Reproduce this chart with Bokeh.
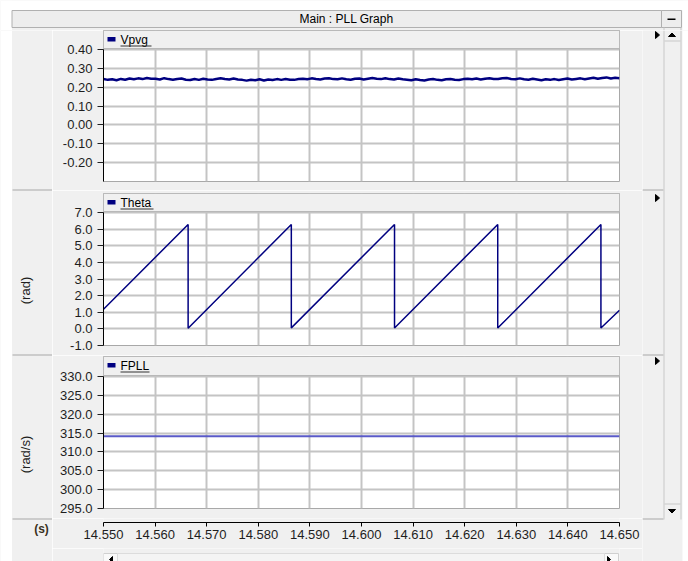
import numpy as np
from bokeh.plotting import figure
from bokeh.layouts import column, row
from bokeh.models import (Range1d, FixedTicker, PrintfTickFormatter, Label,
                          BoxAnnotation, PolyAnnotation)
from bokeh.embed import file_html
from bokeh.resources import INLINE

# ---------------- data ----------------
T_START, T_END = 14.55, 14.65
x_ticks = [14.55, 14.56, 14.57, 14.58, 14.59, 14.60, 14.61, 14.62, 14.63, 14.64, 14.65]

vpvg = [0.243, 0.239, 0.242, 0.237, 0.244, 0.240, 0.246, 0.242, 0.247, 0.243,
        0.249, 0.245, 0.245, 0.241, 0.248, 0.243, 0.240, 0.244, 0.246, 0.240,
        0.238, 0.244, 0.239, 0.245, 0.241, 0.239, 0.244, 0.247, 0.243, 0.241,
        0.246, 0.241, 0.239, 0.235, 0.240, 0.237, 0.242, 0.236, 0.241, 0.238,
        0.243, 0.239, 0.244, 0.240, 0.239, 0.243, 0.245, 0.242, 0.247, 0.243,
        0.241, 0.246, 0.248, 0.243, 0.242, 0.247, 0.242, 0.240, 0.245, 0.246,
        0.241, 0.245, 0.249, 0.245, 0.243, 0.248, 0.243, 0.241, 0.246, 0.242,
        0.240, 0.237, 0.242, 0.238, 0.236, 0.241, 0.243, 0.239, 0.237, 0.242,
        0.244, 0.240, 0.238, 0.243, 0.245, 0.242, 0.246, 0.241, 0.245, 0.248,
        0.244, 0.243, 0.247, 0.249, 0.244, 0.242, 0.247, 0.242, 0.240, 0.245,
        0.241, 0.237, 0.242, 0.239, 0.243, 0.238, 0.242, 0.246, 0.241, 0.244,
        0.247, 0.242, 0.246, 0.250, 0.245, 0.249, 0.252, 0.246, 0.250, 0.248]
vpvg_t = np.linspace(T_START, T_END, len(vpvg))

theta_t = [14.55, 14.5664, 14.5664, 14.5864, 14.5864, 14.6064, 14.6064,
           14.6264, 14.6264, 14.6464, 14.6464, 14.65]
theta_v = [1.18, 6.28, 0.04, 6.28, 0.06, 6.28, 0.05, 6.28, 0.05, 6.28, 0.05, 1.12]

fpll_t = [14.55, 14.65]
fpll_v = [314.16, 314.16]

vpvg_ticks = [-0.2, -0.1, 0.0, 0.1, 0.2, 0.3, 0.4]
theta_ticks = [-1.0, 0.0, 1.0, 2.0, 3.0, 4.0, 5.0, 6.0, 7.0]
fpll_ticks = [295.0, 300.0, 305.0, 310.0, 315.0, 320.0, 325.0, 330.0]

# ---------------- style / layout ----------------
PAGE_W, PAGE_H = 688, 561
TOP_H = 30            # title-bar strip
LEFT_W = 52           # left label strip
RIGHT_X = 642         # start of right strip
PANEL_W = RIGHT_X - LEFT_W
FRAME_LEFT_PAGE = 103
FL = FRAME_LEFT_PAGE - LEFT_W
FR = PANEL_W - FL - 516
BG = "#f0f0f0"
FONT = "Liberation Sans"
GRID = "#c4c4c4"
LABEL_C = "#1e1e1e"
NAVY = "#000080"
SEP = "#a8a8a8"


class Origin:
    """Convert page pixel positions into frame-relative screen units."""
    def __init__(self, p, left, bottom):
        self.p, self.left, self.bottom = p, left, bottom

    def box(self, x0, y0, x1, y1, fill, line=None):
        self.p.add_layout(BoxAnnotation(
            left=x0 - self.left, right=x1 - self.left,
            top=self.bottom - y0, bottom=self.bottom - y1,
            left_units="screen", right_units="screen",
            top_units="screen", bottom_units="screen",
            fill_color=fill, fill_alpha=1.0,
            line_color=line if line else fill, line_alpha=1.0 if line else 0.0,
            line_width=1))

    def poly(self, pts, color="black"):
        self.p.add_layout(PolyAnnotation(
            xs=[x - self.left for x, _ in pts], ys=[self.bottom - y for _, y in pts],
            xs_units="screen", ys_units="screen",
            fill_color=color, fill_alpha=1.0, line_color=color, line_alpha=1.0,
            line_width=1))

    def text(self, x, y, text, size="12px", align="left", bold=False, angle=0,
             color="black"):
        self.p.add_layout(Label(
            x=x - self.left, y=self.bottom - y, x_units="screen", y_units="screen",
            text=text, text_font=FONT, text_font_size=size, text_color=color,
            text_align=align, text_baseline="middle",
            text_font_style="bold" if bold else "normal",
            angle=angle, angle_units="deg"))


def deco_fig(width, height):
    p = figure(width=width, height=height, x_range=Range1d(0, 1), y_range=Range1d(0, 1),
               output_backend="svg", toolbar_location=None,
               x_axis_location=None, y_axis_location=None,
               min_border_left=0, min_border_right=0, min_border_top=0,
               min_border_bottom=0)
    p.grid.visible = False
    p.outline_line_color = None
    p.background_fill_color = BG
    p.border_fill_color = BG
    return p


def make_panel(height, top, bottom, lo, hi, header_px, data_px, ticks, fmt,
               name, name_w, fb, head_y0, head_y1):
    ext = hi + (hi - lo) * header_px / data_px
    p = figure(width=PANEL_W, height=height, x_range=Range1d(T_START, T_END),
               y_range=Range1d(lo, ext), output_backend="svg", toolbar_location=None,
               x_axis_location=None, min_border_left=FL, min_border_right=FR,
               min_border_top=top, min_border_bottom=bottom)
    p.border_fill_color = BG
    p.background_fill_color = "white"
    p.outline_line_color = "#a8a8a8"
    ax = p.yaxis[0]
    ax.bounds = (lo, hi)
    ax.ticker = FixedTicker(ticks=ticks)
    ax.formatter = PrintfTickFormatter(format=fmt)
    ax.major_tick_out = 6
    ax.major_tick_in = 0
    ax.minor_tick_out = 0
    ax.minor_tick_in = 0
    ax.axis_line_color = "black"
    ax.major_tick_line_color = "#202020"
    ax.major_label_text_font = FONT
    ax.major_label_text_font_size = "13px"
    ax.major_label_text_color = LABEL_C
    ax.major_label_standoff = 5
    p.xgrid.ticker = FixedTicker(ticks=x_ticks)
    p.ygrid.ticker = FixedTicker(ticks=ticks)
    p.grid.grid_line_color = GRID
    p.grid.grid_line_width = 2
    # header strip (series name bar)
    p.add_layout(BoxAnnotation(bottom=hi + (hi - lo) * 1.0 / data_px, bottom_units="data",
                               fill_color=BG, fill_alpha=1.0,
                               line_color="#b8b8b8", line_alpha=1.0, line_width=1))
    o = Origin(p, FRAME_LEFT_PAGE, fb)
    yc = (head_y0 + head_y1) / 2
    o.box(107, yc - 2.5, 115, yc + 2, NAVY)
    o.text(120, yc, name)
    o.box(120, yc + 6, 120 + name_w, yc + 7, "#333333")
    return p


# ---- top strip: window title bar (page y 0..30)
top = deco_fig(PAGE_W, TOP_H)
ot = Origin(top, 0, TOP_H)
ot.box(0, 0, PAGE_W, 9.5, "white")
ot.box(0, 0, 11.5, TOP_H, "white")
ot.box(682, 0, PAGE_W, TOP_H, "white")
ot.box(11.5, 10, 661, 27, "#ededed", "#b0b0b0")
ot.box(661, 10, 681, 27, "#ededed", "#b0b0b0")
ot.box(667, 18, 675, 19.5, "black")
ot.box(663, 27, 664, TOP_H, "#c8c8c8")
ot.box(680, 27, 681, TOP_H, "#c8c8c8")
ot.text(346, 18.5, "Main : PLL Graph", size="12px", align="center")

BODY_H = PAGE_H - TOP_H

# ---- left strip: axis titles
left = deco_fig(LEFT_W, BODY_H)
ol = Origin(left, 0, PAGE_H)
ol.box(0, TOP_H, 11.5, PAGE_H, "white")
for y in (189, 354, 518):
    ol.box(12, y, LEFT_W, y + 1, SEP)
ol.text(25, 290, "(rad)", size="13px", align="center", angle=90, color=LABEL_C)
ol.text(25, 454, "(rad/s)", size="13px", align="center", angle=90, color=LABEL_C)
ol.text(41, 528, "(s)", size="12px", align="center", bold=True, color="#3a3020")

# ---- right strip: panel arrows and scrollbar
right = deco_fig(PAGE_W - RIGHT_X, BODY_H)
orr = Origin(right, RIGHT_X, PAGE_H)
orr.box(682, TOP_H, PAGE_W, PAGE_H, "white")
for y in (189, 354, 518):
    orr.box(RIGHT_X, y, 663, y + 1, SEP)
orr.box(663, TOP_H, 664, 519, "#c8c8c8")
orr.box(680, TOP_H, 681, 519, "#c8c8c8")
orr.box(664, 40, 680, 41, "#c8c8c8")
orr.box(664, 503, 680, 504, "#c8c8c8")
orr.poly([(668, 36), (675, 36), (671.5, 32.5)])
orr.poly([(668, 509), (675, 509), (671.5, 512.5)])
for y0 in (31, 194, 357):
    orr.poly([(655, y0), (655, y0 + 7), (659, y0 + 3.5)])

# ---- Panel 1: Vpvg (page: header 30..48, data 49..181)
p1 = make_panel(160, 0, 9, -0.30, 0.40, 19, 132, vpvg_ticks, "%.2f",
                "Vpvg", 31, 181, 30, 48)
p1.line(vpvg_t, vpvg, line_color=NAVY, line_width=2.5)

# ---- Panel 2: Theta (page: header 193..211, data 212..345)
p2 = make_panel(165, 3, 10, -1.0, 7.0, 19, 133, theta_ticks, "%.1f",
                "Theta", 33, 345, 193, 211)
p2.line(theta_t, theta_v, line_color=NAVY, line_width=1.5)

# ---- Panel 3: FPLL (page: header 356..375, data 376..508)
p3 = make_panel(163, 1, 10, 295.0, 330.0, 20, 132, fpll_ticks, "%.1f",
                "FPLL", 29, 508, 356, 374)
p3.line(fpll_t, fpll_v, line_color="#5a5ac8", line_width=2)

# ---- Time axis (page frame 518..522)
p4 = figure(width=PANEL_W, height=30, x_range=Range1d(T_START, T_END),
            y_range=Range1d(0, 1), output_backend="svg", toolbar_location=None,
            y_axis_location=None,
            min_border_left=FL, min_border_right=FR, min_border_top=0, min_border_bottom=26)
p4.border_fill_color = BG
p4.background_fill_color = BG
p4.outline_line_color = None
p4.grid.visible = False
xa = p4.xaxis[0]
xa.ticker = FixedTicker(ticks=x_ticks)
xa.formatter = PrintfTickFormatter(format="%.3f")
xa.major_tick_out = 4
xa.major_tick_in = 0
xa.minor_tick_out = 0
xa.minor_tick_in = 0
xa.axis_line_color = "black"
xa.major_label_text_font = FONT
xa.major_label_text_font_size = "13px"
xa.major_label_text_color = LABEL_C
xa.major_label_standoff = 3

# ---- bottom strip: horizontal scrollbar (page y 548..561)
# (its frame is aligned with the panel frames, i.e. starts at page x 103)
bottom = deco_fig(PANEL_W, PAGE_H - 548)
ob = Origin(bottom, FRAME_LEFT_PAGE, PAGE_H)
ob.box(103, 553, 618, PAGE_H + 2, "#f9f9f9", "#d0d0d0")
ob.box(117, 553, 604, PAGE_H + 2, "#f4f4f4", "#dcdcdc")
ob.poly([(112, 556), (112, 562), (109, 559)])
ob.poly([(607, 556), (607, 562), (610, 559)])

panels = column(p1, p2, p3, p4, bottom, spacing=0)
body = row(left, panels, right, spacing=0)
layout = column(top, body, spacing=0)
open("out.html", "w").write(file_html(layout, INLINE))
